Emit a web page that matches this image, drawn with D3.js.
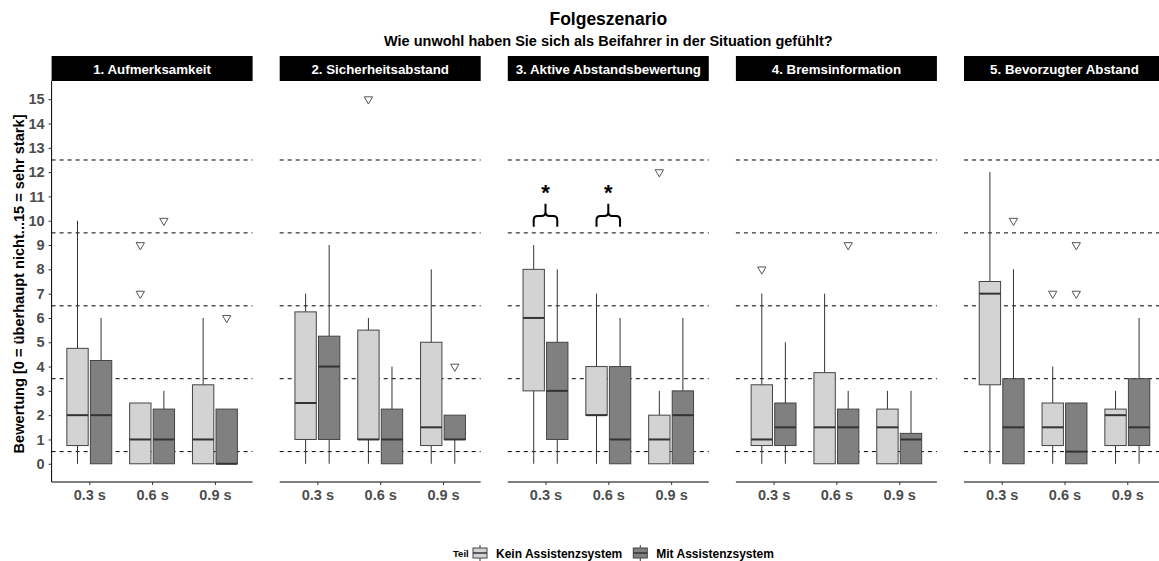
<!DOCTYPE html>
<html><head><meta charset="utf-8">
<script src="https://cdn.jsdelivr.net/npm/d3@7"></script>
<style>
html,body{margin:0;padding:0;background:#fff;}
text{font-family:"Liberation Sans",Arial,sans-serif;}
</style></head>
<body><svg id="chart" width="1159" height="561"></svg>
<script>
// ---------- data ----------
const title = "Folgeszenario";
const subtitle = "Wie unwohl haben Sie sich als Beifahrer in der Situation gefühlt?";
const yTitle = "Bewertung [0 = überhaupt nicht...15 = sehr stark]";
const panels = ["1. Aufmerksamkeit","2. Sicherheitsabstand","3. Aktive Abstandsbewertung","4. Bremsinformation","5. Bevorzugter Abstand"];
const conditions = ["0.3 s","0.6 s","0.9 s"];
const groups = ["Kein Assistenzsystem","Mit Assistenzsystem"];
const legendTitle = "Teil";
const yTicks = [0,1,2,3,4,5,6,7,8,9,10,11,12,13,14,15];
const refLines = [0.5,3.5,6.5,9.5,12.5];

// box stats per condition: [lowerWhisker, q1, median, q3, upperWhisker]
const p1Kein = [[0,0.75,2,4.75,10],[0,0,1,2.5,2.5],[0,0,1,3.25,6]];
const p1Mit  = [[0,0,2,4.25,6],[0,0,1,2.25,3],[0,0,0,2.25,2.25]];
const p2Kein = [[0,1,2.5,6.25,7],[0,1,1,5.5,6],[0,0.75,1.5,5,8]];
const p2Mit  = [[0,1,4,5.25,9],[0,0,1,2.25,4],[0,1,1,2,2]];
const p3Kein = [[0,3,6,8,9],[0,2,2,4,7],[0,0,1,2,3]];
const p3Mit  = [[0,1,3,5,8],[0,0,1,4,6],[0,0,2,3,6]];
const p4Kein = [[0,0.75,1,3.25,7],[0,0,1.5,3.75,7],[0,0,1.5,2.25,3]];
const p4Mit  = [[0,0.75,1.5,2.5,5],[0,0,1.5,2.25,3],[0,0,1,1.25,3]];
const p5Kein = [[0,3.25,7,7.5,12],[0,0.75,1.5,2.5,4],[0,0.75,2,2.25,3]];
const p5Mit  = [[0,0,1.5,3.5,8],[0,0,0.5,2.5,2.5],[0,0.75,1.5,3.5,6]];

// outliers per condition
const o1Kein = [[],[9,7],[]];
const o1Mit  = [[],[10],[6]];
const o2Kein = [[],[15],[]];
const o2Mit  = [[],[],[4]];
const o3Kein = [[],[],[12]];
const o3Mit  = [[],[],[]];
const o4Kein = [[8],[],[]];
const o4Mit  = [[],[9],[]];
const o5Kein = [[],[7],[]];
const o5Mit  = [[10],[9,7],[]];

// significance markers
const sigPanel = "3. Aktive Abstandsbewertung";
const sigConditions = ["0.3 s","0.6 s"];
const sigLevel = 9.75;

const boxStats = [[p1Kein,p1Mit],[p2Kein,p2Mit],[p3Kein,p3Mit],[p4Kein,p4Mit],[p5Kein,p5Mit]];
const outliers = [[o1Kein,o1Mit],[o2Kein,o2Mit],[o3Kein,o3Mit],[o4Kein,o4Mit],[o5Kein,o5Mit]];
const fills = ["#d3d3d3","#808080"];

// ---------- layout ----------
const svg = d3.select("#chart");
const plotTop = 81, plotBottom = 482;
const stripTop = 56;
const y = d3.scaleLinear().domain([-0.75,15.75]).range([plotBottom, plotTop]);
const panelScale = d3.scaleBand().domain(panels).range([51.6, 1165]).paddingInner(0.1188).paddingOuter(0);
const pw = panelScale.bandwidth();
const x = d3.scalePoint().domain(conditions).range([0, pw]).padding(0.6);
const step = x.step();
const dodge = d3.scalePoint().domain(groups).range([-0.1875*step, 0.1875*step]);
const boxW = 0.34*step;
const fillScale = d3.scaleOrdinal().domain(groups).range(fills);

// titles
const midX = panelScale.range()[0] + (panelScale.range()[1]-panelScale.range()[0])/2;
svg.append("text").attr("x", midX).attr("y", 25).attr("text-anchor","middle")
  .attr("font-size", 17.5).attr("font-weight","bold").attr("fill","#000").text(title);
svg.append("text").attr("x", midX).attr("y", 45.5).attr("text-anchor","middle")
  .attr("font-size", 14.5).attr("font-weight","bold").attr("fill","#000").text(subtitle);

// y axis title
svg.append("text").attr("transform", `translate(24,284) rotate(-90)`)
  .attr("text-anchor","middle").attr("font-size", 14.6).attr("font-weight","bold").attr("fill","#000").text(yTitle);

// y axis (first panel)
const yAxis = svg.append("g").attr("transform", `translate(${panelScale(panels[0])},0)`)
  .call(d3.axisLeft(y).tickValues(yTicks).tickSize(3).tickPadding(4));
yAxis.select(".domain").attr("stroke","#000").attr("d", `M0,${plotTop}V${plotBottom}`);
yAxis.selectAll(".tick line").attr("stroke","#333");
yAxis.selectAll(".tick text").attr("font-size", 14.5).attr("font-weight","bold").attr("fill","#4d4d4d")
  .attr("font-family","Liberation Sans, Arial, sans-serif");

const triangle = d3.symbol().type(d3.symbolTriangle).size(30);

panels.forEach((pname, pi) => {
  const g = svg.append("g").attr("transform", `translate(${panelScale(pname)},0)`);
  // strip
  g.append("rect").attr("x",0).attr("y",stripTop).attr("width",pw).attr("height",plotTop-stripTop).attr("fill","#000");
  g.append("text").attr("x", pw/2).attr("y", 73.5).attr("text-anchor","middle").attr("fill","#fff")
    .attr("font-size", 13.3).attr("font-weight","bold").text(pname);
  // reference dashed lines
  g.selectAll("line.ref").data(refLines).enter().append("line").attr("class","ref")
    .attr("x1",0).attr("x2",pw).attr("y1",d=>y(d)).attr("y2",d=>y(d))
    .attr("stroke","#000").attr("stroke-width",1).attr("stroke-dasharray","4,4");
  // x axis
  const xAxis = g.append("g").attr("transform", `translate(0,${plotBottom})`)
    .call(d3.axisBottom(x).tickSize(3).tickPadding(5));
  xAxis.select(".domain").attr("stroke","#000").attr("d", `M0,0H${pw}`);
  xAxis.selectAll(".tick line").attr("stroke","#333");
  xAxis.selectAll(".tick text").attr("font-size", 14.5).attr("font-weight","bold").attr("fill","#4d4d4d")
    .attr("font-family","Liberation Sans, Arial, sans-serif");

  groups.forEach((grp, gi) => {
    const stats = boxStats[pi][gi];
    conditions.forEach((c, ci) => {
      const [lo, q1, med, q3, hi] = stats[ci];
      const cx = x(c) + dodge(grp);
      const bg = g.append("g");
      // whiskers
      if (hi > q3) bg.append("line").attr("x1",cx).attr("x2",cx).attr("y1",y(q3)).attr("y2",y(hi)).attr("stroke","#333");
      if (lo < q1) bg.append("line").attr("x1",cx).attr("x2",cx).attr("y1",y(q1)).attr("y2",y(lo)).attr("stroke","#333");
      // box
      bg.append("rect").attr("x", cx-boxW/2).attr("y", y(q3)).attr("width", boxW).attr("height", Math.max(0.5, y(q1)-y(q3)))
        .attr("fill", fillScale(grp)).attr("stroke","#444").attr("stroke-width",1);
      // median
      bg.append("line").attr("x1",cx-boxW/2).attr("x2",cx+boxW/2).attr("y1",y(med)).attr("y2",y(med))
        .attr("stroke","#333").attr("stroke-width",2);
      // outliers
      outliers[pi][gi][ci].forEach(v => {
        bg.append("path").attr("d", triangle).attr("transform", `translate(${cx},${y(v)}) rotate(180)`)
          .attr("fill","#fff").attr("stroke","#555").attr("stroke-width",1);
      });
    });
  });

  // significance braces
  if (pname === sigPanel) {
    sigConditions.forEach(c => {
      const x1 = x(c) + dodge(groups[0]);
      const x2 = x(c) + dodge(groups[1]);
      const xm = (x1+x2)/2;
      const yEnd = y(sigLevel), yMid = y(sigLevel+0.45), yTip = y(sigLevel+0.95);
      const r = 4;
      const p = d3.path();
      p.moveTo(x1, yEnd);
      p.lineTo(x1, yMid + r);
      p.quadraticCurveTo(x1, yMid, x1 + r, yMid);
      p.lineTo(xm - r, yMid);
      p.quadraticCurveTo(xm, yMid, xm, yMid - r);
      p.lineTo(xm, yTip);
      p.moveTo(x2, yEnd);
      p.lineTo(x2, yMid + r);
      p.quadraticCurveTo(x2, yMid, x2 - r, yMid);
      p.lineTo(xm + r, yMid);
      p.quadraticCurveTo(xm, yMid, xm, yMid - r);
      g.append("path").attr("d", p.toString()).attr("fill","none").attr("stroke","#000").attr("stroke-width",2);
      g.append("text").attr("x", xm).attr("y", y(sigLevel+1.1)).attr("text-anchor","middle")
        .attr("font-size", 22).attr("font-weight","bold").attr("fill","#000").text("*");
    });
  }
});

// ---------- legend ----------
const legend = svg.append("g");
const ly = 553;
legend.append("text").attr("x", 453).attr("y", ly+3.5).attr("font-size", 9.5).attr("font-weight","bold").text(legendTitle);
let lx = 472;
groups.forEach((grp, gi) => {
  const kg = legend.append("g").attr("transform", `translate(${lx},${ly-8})`);
  kg.append("line").attr("x1",8).attr("x2",8).attr("y1",0).attr("y2",16).attr("stroke","#333");
  kg.append("rect").attr("x",1).attr("y",3).attr("width",14).attr("height",10).attr("fill",fillScale(grp)).attr("stroke","#444");
  kg.append("line").attr("x1",1).attr("x2",15).attr("y1",8).attr("y2",8).attr("stroke","#333").attr("stroke-width",1.5);
  const t = legend.append("text").attr("x", lx+24).attr("y", ly+4.5).attr("font-size", 12).attr("font-weight","bold").text(grp);
  lx += 24 + t.node().getComputedTextLength() + 10;
});
</script>
</body></html>
